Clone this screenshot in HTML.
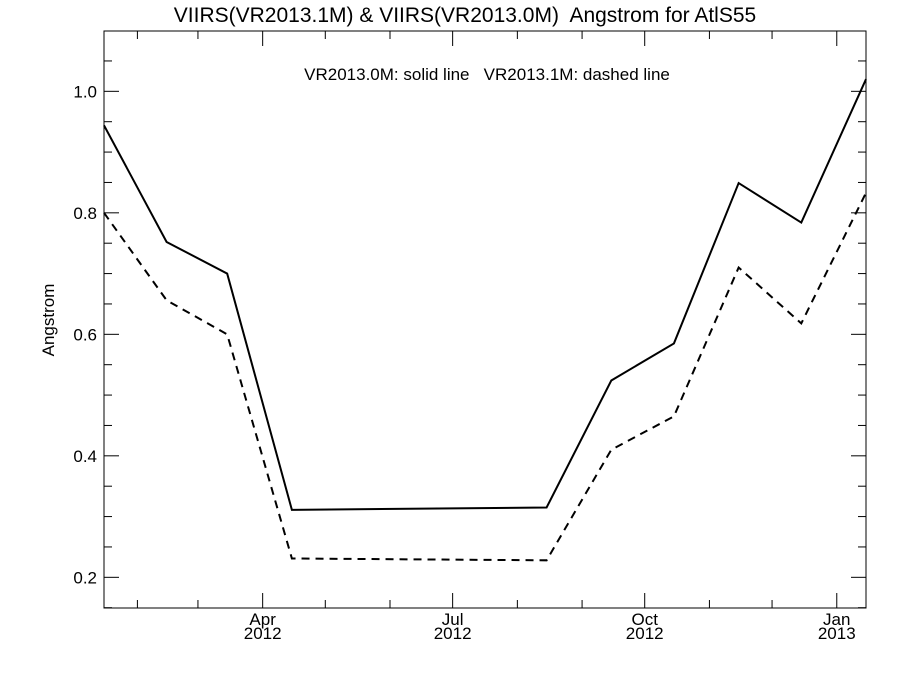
<!DOCTYPE html>
<html><head><meta charset="utf-8"><style>
body{margin:0;background:#fff}
svg{display:block;font-family:"Liberation Sans",Arial,sans-serif}
text{white-space:pre}
</style></head><body>
<svg id="chart" width="900" height="675">
<text x="465" y="22" text-anchor="middle" font-size="21" xml:space="preserve">VIIRS(VR2013.1M) &amp; VIIRS(VR2013.0M)  Angstrom for AtlS55</text>
<text x="487" y="80" text-anchor="middle" font-size="17" xml:space="preserve">VR2013.0M: solid line   VR2013.1M: dashed line</text>
<text transform="translate(54,320) rotate(-90)" text-anchor="middle" font-size="17">Angstrom</text>
<rect x="104" y="31" width="762" height="577" fill="none" stroke="#000" stroke-width="1"/>
<g id="axes"></g>
<g id="series"></g>
</svg>
<script>
const days = [15, 45, 74, 105, 227, 258, 288, 319, 349, 380];
const solidValues = [0.944, 0.752, 0.70, 0.311, 0.315, 0.524, 0.585, 0.849, 0.784, 1.02];
const dashedValues = [0.80, 0.656, 0.60, 0.231, 0.228, 0.41, 0.465, 0.71, 0.618, 0.833];
const yTickLabels = ["0.2", "0.4", "0.6", "0.8", "1.0"];
const xMajorDays = [91, 182, 274, 366];
const xMajorLabels = [["Apr","2012"],["Jul","2012"],["Oct","2012"],["Jan","2013"]];
const xMinorDays = [31, 60, 121, 152, 213, 244, 305, 335];

const L=104,R=866,T=31,B=608, X0=15, X1=380, Y0=0.1495, Y1=1.0993;
function sx(d){return L+(d-X0)/(X1-X0)*(R-L);}
function sy(v){return B-(v-Y0)/(Y1-Y0)*(B-T);}
const NS="http://www.w3.org/2000/svg";
const axes=document.getElementById('axes'), series=document.getElementById('series');
function line(p,x1,y1,x2,y2,name){const e=document.createElementNS(NS,'line');
e.setAttribute('x1',x1);e.setAttribute('y1',y1);e.setAttribute('x2',x2);e.setAttribute('y2',y2);
e.setAttribute('stroke','#000');e.setAttribute('stroke-width','1');


p.appendChild(e);}
function text(p,x,y,s,anchor,name){const e=document.createElementNS(NS,'text');
e.setAttribute('x',x);e.setAttribute('y',y);e.setAttribute('text-anchor',anchor);e.setAttribute('font-size','17');e.textContent=s;


p.appendChild(e);}
for(let v=0.15; v<=1.0999; v+=0.05){
  const vv=Math.round(v*100)/100, y=sy(vv);
  const major=Math.abs(vv*10-Math.round(vv*10))<1e-6 && Math.round(vv*10)%2===0;
  const len=major?15:8;
  line(axes,L,y,L+len,y,'y-tick');
  line(axes,R,y,R-len,y,'y-tick-right');
}
yTickLabels.forEach(s=>{text(axes,L-7,sy(parseFloat(s))+6,s,'end','y-tick-label');});
xMajorDays.forEach((d,i)=>{const x=sx(d);
  line(axes,x,B,x,B-15,'x-tick');line(axes,x,T,x,T+15,'x-tick-top');
  text(axes,x,B+17,xMajorLabels[i][0],'middle','x-tick-label-month');
  text(axes,x,B+31,xMajorLabels[i][1],'middle','x-tick-label-year');});
xMinorDays.forEach(d=>{const x=sx(d);line(axes,x,B,x,B-8,'x-minor-tick');line(axes,x,T,x,T+8,'x-minor-tick-top');});
function path(vals,dash,name){const e=document.createElementNS(NS,'polyline');
e.setAttribute('points',days.map((d,i)=>sx(d)+','+sy(vals[i])).join(' '));
e.setAttribute('fill','none');e.setAttribute('stroke','#000');e.setAttribute('stroke-width','2');
if(dash)e.setAttribute('stroke-dasharray','8,6');


series.appendChild(e);}
path(solidValues,false,'series-vr2013-0m-solid');
path(dashedValues,true,'series-vr2013-1m-dashed');
</script>
</body></html>
